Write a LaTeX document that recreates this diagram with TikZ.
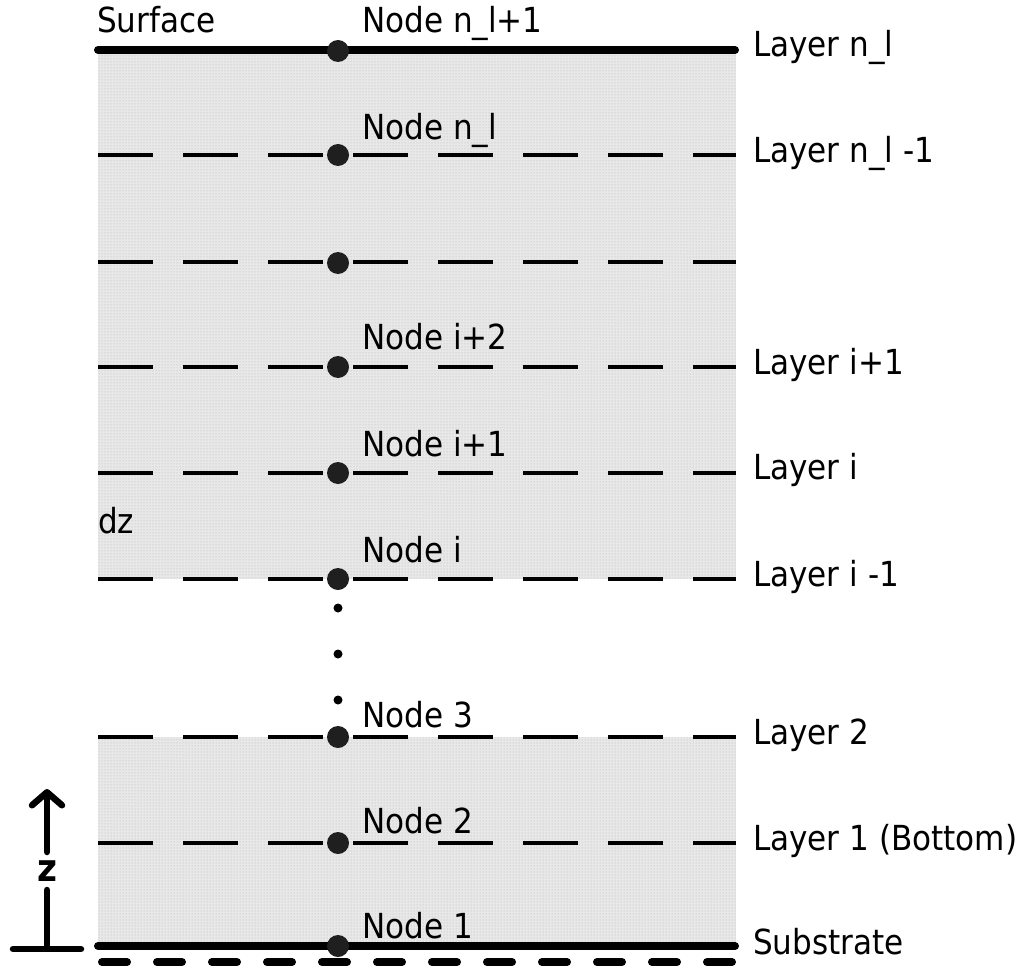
\documentclass[tikz,border=0pt]{standalone}
\usepackage{fontspec}
\setmainfont{DejaVu Sans Condensed}
\usetikzlibrary{patterns,arrows.meta}
\begin{document}
\begin{tikzpicture}[x=1pt,y=-1pt,
  txt/.style={inner sep=0pt, font=\fontsize{34.5}{40}\selectfont},
  nodelabel/.style={txt, anchor=base west},
  layerlabel/.style={txt, anchor=base west},
  soil/.style={fill=black!9, postaction={pattern=dots, pattern color=black!30}},
  boundary/.style={line width=8pt, line cap=round},
  interface/.style={line width=4pt, dash pattern=on 55pt off 30pt},
  bedrock/.style={line width=8pt, line cap=round, dash pattern=on 25pt off 30pt},
  gridpt/.style={circle, fill=black!88, draw=none, inner sep=0pt, minimum size=22pt},
  ellipsisdot/.style={circle, fill=black, draw=none, inner sep=0pt, minimum size=9pt},
  axis/.style={line width=6.5pt, line cap=round, line join=round}]
\useasboundingbox (0,0) rectangle (1024,968);

% shaded soil column, interrupted where the ellipsis stands
\fill[soil] (98,50) rectangle (736,579);
\fill[soil] (98,737) rectangle (736,946);

% layer boundaries: left end, right end
\coordinate (sL) at (98,50);   \coordinate (sR) at (735,50);
\coordinate (aL) at (98,155);  \coordinate (aR) at (736,155);
\coordinate (bL) at (98,262);  \coordinate (bR) at (736,262);
\coordinate (cL) at (98,367);  \coordinate (cR) at (736,367);
\coordinate (dL) at (98,473);  \coordinate (dR) at (736,473);
\coordinate (eL) at (98,579);  \coordinate (eR) at (736,579);
\coordinate (fL) at (98,737);  \coordinate (fR) at (736,737);
\coordinate (gL) at (98,843);  \coordinate (gR) at (736,843);
\coordinate (hL) at (98,946);  \coordinate (hR) at (735,946);
\coordinate (kL) at (102,962); \coordinate (kR) at (736,962);

\draw[boundary] (sL) -- (sR);
\draw[interface] (aL) -- (aR);
\draw[interface] (bL) -- (bR);
\draw[interface] (cL) -- (cR);
\draw[interface] (dL) -- (dR);
\draw[interface] (eL) -- (eR);
\draw[interface] (fL) -- (fR);
\draw[interface] (gL) -- (gR);
\draw[boundary] (hL) -- (hR);
\draw[bedrock] (kL) -- (kR);

% grid nodes
\node[gridpt] (n0) at (338,51) {};
\node[gridpt] (n1) at (338,155) {};
\node[gridpt] (n2) at (338,263) {};
\node[gridpt] (n3) at (338,367) {};
\node[gridpt] (n4) at (338,473) {};
\node[gridpt] (n5) at (338,579) {};
\node[gridpt] (n6) at (338,737) {};
\node[gridpt] (n7) at (338,843) {};
\node[gridpt] (n8) at (338,946) {};

\node[ellipsisdot] (e1) at (338,608) {};
\node[ellipsisdot] (e2) at (338,654) {};
\node[ellipsisdot] (e3) at (338,700) {};

% node labels
\node[nodelabel] (surf) at (97,33) {Surface};
\node[nodelabel] (t0) at (362,33) {Node n\_l+1};
\node[nodelabel] (t1) at (362,140) {Node n\_l};
\node[nodelabel] (t3) at (362,349) {Node i+2};
\node[nodelabel] (t4) at (362,456) {Node i+1};
\node[nodelabel] (t5) at (362,562) {Node i};
\node[nodelabel] (t6) at (362,727) {Node 3};
\node[nodelabel] (t7) at (362,833) {Node 2};
\node[nodelabel] (t8) at (362,938) {Node 1};
\node[nodelabel] (dz) at (98,533) {dz};

% layer labels
\node[layerlabel] (l0) at (753,57) {Layer n\_l};
\node[layerlabel] (l1) at (753,163) {Layer n\_l -1};
\node[layerlabel] (l3) at (753,374) {Layer i+1};
\node[layerlabel] (l4) at (753,479) {Layer i};
\node[layerlabel] (l5) at (753,586) {Layer i -1};
\node[layerlabel] (l6) at (753,744) {Layer 2};
\node[layerlabel] (l7) at (753,850) {Layer 1 (Bottom)};
\node[layerlabel] (l8) at (753,954) {Substrate};

% vertical axis
\node[inner sep=0pt, font=\fontsize{38}{44}\selectfont\bfseries] (zlab) at (47,871) {z};
\coordinate (zup) at (47,852);
\coordinate (ztop) at (47,789);
\coordinate (zlow) at (47,890);
\coordinate (zbase) at (47,948);
\coordinate (tL) at (13,949);
\coordinate (tR) at (81,949);
\draw[axis, -{Straight Barb[length=13pt, width=30pt, line cap=round, line join=round]}]
  (zup) -- (ztop);
\draw[axis] (zlow) -- (zbase);
\draw[axis] (tL) -- (tR);
\end{tikzpicture}
\end{document}
